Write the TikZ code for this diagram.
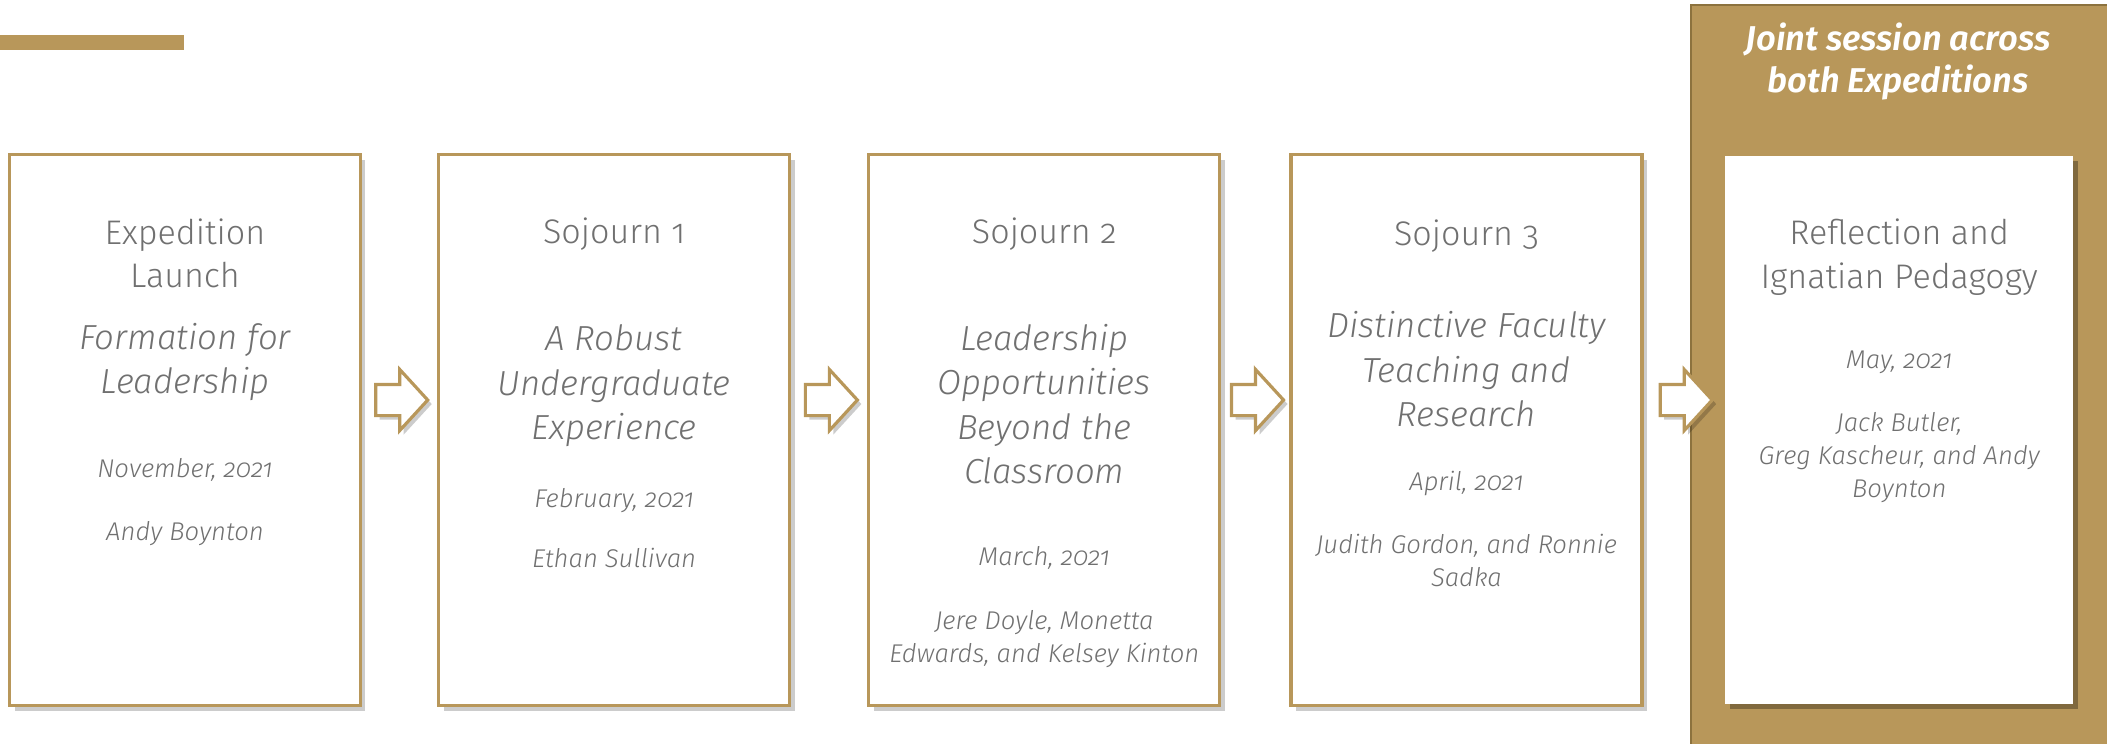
\documentclass[tikz,border=0pt]{standalone}
\usepackage{xcolor}
\usepackage{fontspec}
\setmainfont{Fira Sans}[UprightFont={* Light}, ItalicFont={* Light Italic}, BoldItalicFont={* SemiBold Italic}, Numbers=OldStyle]
\usepackage{tikz}
\usetikzlibrary{positioning,calc,shadows,shapes.arrows}
\definecolor{gold}{RGB}{184,151,90}
\definecolor{gold_dark}{RGB}{140,114,62}
\definecolor{txt_gray}{RGB}{112,112,112}
\tikzstyle{stg_box} = [rectangle, draw=gold, line width=0.9pt, fill=white, minimum width=3.51cm, minimum height=5.51cm, inner sep=0pt, drop shadow={shadow xshift=0.5mm, shadow yshift=-0.5mm, fill=black, opacity=0.2}]
\tikzstyle{refl_box} = [rectangle, fill=white, minimum width=3.48cm, minimum height=5.48cm, inner sep=0pt, drop shadow={shadow xshift=0.5mm, shadow yshift=-0.5mm, fill=black, opacity=0.3}]
\tikzstyle{stg_arrow} = [single arrow, draw=gold, fill=white, line width=0.9pt, minimum height=0.52cm, inner xsep=0pt, inner ysep=0.14cm, single arrow head extend=0.15cm, single arrow tip angle=95, drop shadow={shadow xshift=0.4mm, shadow yshift=-0.4mm, fill=black, opacity=0.2}]
\tikzstyle{stg_title} = [anchor=base, align=center, text=txt_gray, inner sep=0pt, font=\fontsize{9.7}{12.5}\selectfont]
\tikzstyle{stg_sub} = [anchor=base, align=center, text=txt_gray, inner sep=0pt, font=\fontsize{9.9}{12.7}\selectfont\itshape]
\tikzstyle{stg_date} = [anchor=base, align=center, text=txt_gray, inner sep=0pt, font=\fontsize{7.3}{9.4}\selectfont\itshape]
\tikzstyle{joint_head} = [anchor=base, align=center, text=white, inner sep=0pt, font=\fontsize{9.8}{11.9}\selectfont\bfseries\itshape]

\begin{document}
\begin{tikzpicture}[x=0.1mm, y=-0.1mm]
\useasboundingbox (0,0) rectangle (2107,743);
\fill [gold] (0,35) rectangle (184,50);
% joint session panel
\node [rectangle, fill=gold, draw=gold_dark, line width=0.6pt, minimum width=4.4cm, minimum height=7.6cm, anchor=north west] (joint) at (1690,4) {};
\node [joint_head] (joint_txt) at (1898,92) {Joint session across\\both Expeditions};
% stages
\node [stg_box] (s1) at (185,430) {};
\node [stg_box, right=0.75cm of s1] (s2) {};
\node [stg_box, right=0.76cm of s2] (s3) {};
\node [stg_box, right=0.68cm of s3] (s4) {};
\node [refl_box, right=0.81cm of s4] (s5) {};
% block arrows
\node [stg_arrow] (a1) at ($(s1.east)!0.5!(s2.west)+(-5,-30)$) {};
\node [stg_arrow] (a2) at ($(s2.east)!0.5!(s3.west)+(-5,-30)$) {};
\node [stg_arrow] (a3) at ($(s3.east)!0.5!(s4.west)+(-5,-30)$) {};
\node [stg_arrow] (a4) at ($(s4.east)!0.5!(s5.west)+(-5,-30)$) {};
% texts (base = last line)
\node [stg_title] (s1title) at ($(s1.north)+(0,135)$) {Expedition\\Launch};
\node [stg_sub] (s1sub) at ($(s1.north)+(0,241)$) {Formation for\\Leadership};
\node [stg_date] (s1date) at ($(s1.north)+(0,325)$) {November, 2021};
\node [stg_date] (s1names) at ($(s1.north)+(0,388)$) {Andy Boynton};

\node [stg_title] (s2title) at ($(s2.north)+(0,91)$) {Sojourn 1};
\node [stg_sub] (s2sub) at ($(s2.north)+(0,287)$) {A Robust\\Undergraduate\\Experience};
\node [stg_date] (s2date) at ($(s2.north)+(0,355)$) {February, 2021};
\node [stg_date] (s2names) at ($(s2.north)+(0,415)$) {Ethan Sullivan};

\node [stg_title] (s3title) at ($(s3.north)+(0,91)$) {Sojourn 2};
\node [stg_sub] (s3sub) at ($(s3.north)+(0,331)$) {Leadership\\Opportunities\\Beyond the\\Classroom};
\node [stg_date] (s3date) at ($(s3.north)+(0,413)$) {March, 2021};
\node [stg_date] (s3names) at ($(s3.north)+(0,510)$) {Jere Doyle, Monetta\\Edwards, and Kelsey Kinton};

\node [stg_title] (s4title) at ($(s4.north)+(0,93)$) {Sojourn 3};
\node [stg_sub] (s4sub) at ($(s4.north)+(0,274)$) {Distinctive Faculty\\Teaching and\\Research};
\node [stg_date] (s4date) at ($(s4.north)+(0,338)$) {April, 2021};
\node [stg_date] (s4names) at ($(s4.north)+(0,434)$) {Judith Gordon, and Ronnie\\Sadka};

\node [stg_title] (s5title) at ($(s5.north)+(0,133)$) {Reflection and\\Ignatian Pedagogy};
\node [stg_date] (s5date) at ($(s5.north)+(0,213)$) {May, 2021};
\node [stg_date] (s5names) at ($(s5.north)+(0,342)$) {Jack Butler,\\Greg Kascheur, and Andy\\Boynton};
\end{tikzpicture}
\end{document}
